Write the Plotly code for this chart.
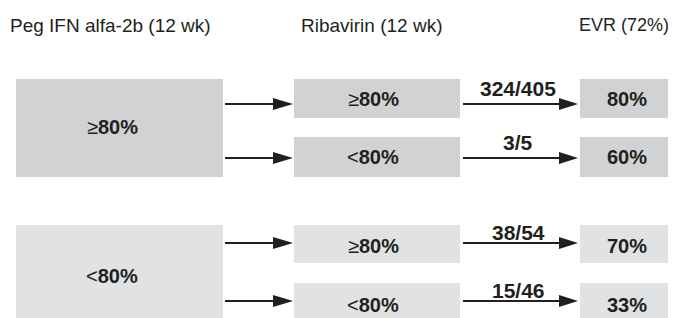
import plotly.graph_objects as go

# ---- data ----
header_labels = ["Peg IFN alfa-2b (12 wk)", "Ribavirin (12 wk)", "EVR (72%)"]
peg_groups = ["≥80%", "<80%"]
riba_groups = ["≥80%", "<80%", "≥80%", "<80%"]
responders = [324, 3, 38, 15]
totals = [405, 5, 54, 46]
evr_pct = [80, 60, 70, 33]

# ---- layout geometry ----
W, H = 674, 318
INK = "#231f20"
FILL = ["#d1d2d4", "#e1e2e3"]
HEAD_FONT = "Liberation Sans, Arial, sans-serif"
BODY_FONT = "Liberation Sans, Arial, sans-serif"

big_x = (16, 223)
mid_x = (294, 460)
evr_x = (580, 668)
arr1_x = (225, 293)
arr2_x = (463, 578)
big_y = [(79, 177), (225, 330)]
row_y = [(79, 118), (137, 177), (225, 263), (283, 330)]
arrow_y = [104, 158, 243, 301]
big_text_y = [127, 276]
row_text_y = [99, 157, 246, 305]
arr_label_y = [102, 156, 246, 304]
head_x = [110.5, 371, 624]
head_size = [19, 19, 18]
head_y = 25


def fmt(lbl):
    sym, rest = lbl[0], lbl[1:]
    sym = "&lt;" if sym == "<" else sym
    return f"{sym}<b>{rest}</b>"


shapes = []
annotations = []

for i, lbl in enumerate(header_labels):
    annotations.append(dict(x=head_x[i], y=head_y, text=lbl, showarrow=False,
                            xanchor="center", yanchor="middle",
                            font=dict(family=HEAD_FONT, size=head_size[i], color=INK)))

for g, lbl in enumerate(peg_groups):
    y0, y1 = big_y[g]
    shapes.append(dict(type="rect", x0=big_x[0], x1=big_x[1], y0=y0, y1=y1,
                       fillcolor=FILL[g], line=dict(width=0), layer="below"))
    annotations.append(dict(x=112, y=big_text_y[g], text=fmt(lbl), showarrow=False,
                            xanchor="center", yanchor="middle",
                            font=dict(family=BODY_FONT, size=20, color=INK)))


def arrow(xa, xb, y, head):
    shapes.append(dict(type="line", x0=xa, x1=xb - head + 2, y0=y, y1=y,
                       line=dict(color=INK, width=2)))
    shapes.append(dict(type="path",
                       path=f"M {xb - head},{y - 6} L {xb},{y} L {xb - head},{y + 6} Z",
                       fillcolor=INK, line=dict(width=0)))


for r, lbl in enumerate(riba_groups):
    g = r // 2
    y0, y1 = row_y[r]
    shapes.append(dict(type="rect", x0=mid_x[0], x1=mid_x[1], y0=y0, y1=y1,
                       fillcolor=FILL[g], line=dict(width=0), layer="below"))
    shapes.append(dict(type="rect", x0=evr_x[0], x1=evr_x[1], y0=y0, y1=y1,
                       fillcolor=FILL[g], line=dict(width=0), layer="below"))
    arrow(arr1_x[0], arr1_x[1], arrow_y[r], 20)
    arrow(arr2_x[0], arr2_x[1], arrow_y[r], 19)
    annotations.append(dict(x=(mid_x[0] + mid_x[1]) / 2 - 4, y=row_text_y[r], text=fmt(lbl),
                            showarrow=False, xanchor="center", yanchor="middle",
                            font=dict(family=BODY_FONT, size=20, color=INK)))
    annotations.append(dict(x=(evr_x[0] + evr_x[1]) / 2 + 3, y=row_text_y[r],
                            text=f"<b>{evr_pct[r]}%</b>", showarrow=False,
                            xanchor="center", yanchor="middle",
                            font=dict(family=BODY_FONT, size=20, color=INK)))
    annotations.append(dict(x=518, y=arr_label_y[r],
                            text=f"<b>{responders[r]}/{totals[r]}</b>", showarrow=False,
                            xanchor="center", yanchor="bottom",
                            font=dict(family=BODY_FONT, size=21, color=INK)))

fig = go.Figure()
fig.update_layout(
    width=W, height=H,
    margin=dict(l=0, r=0, t=0, b=0),
    paper_bgcolor="white", plot_bgcolor="white",
    xaxis=dict(range=[0, W], visible=False, fixedrange=True),
    yaxis=dict(range=[H, 0], visible=False, fixedrange=True),
    shapes=shapes, annotations=annotations, showlegend=False,
    hovermode=False,
)
fig.write_html("out.html",
               config=dict(displayModeBar=False, staticPlot=True),
               post_script="document.body.style.margin='0';document.body.style.overflow='hidden';")
